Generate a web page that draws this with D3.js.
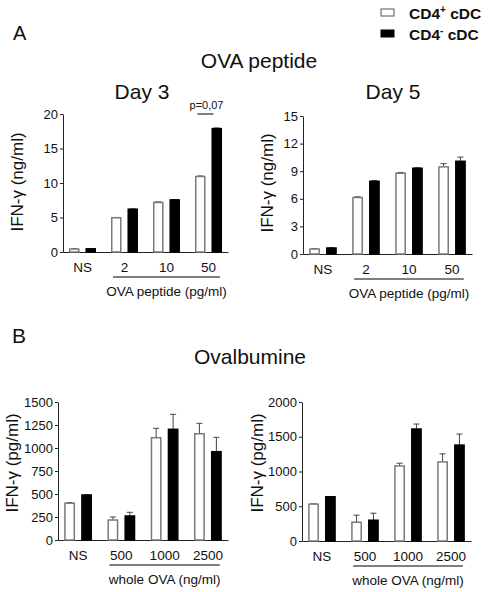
<!DOCTYPE html>
<html>
<head>
<meta charset="utf-8">
<script src="https://cdn.jsdelivr.net/npm/d3@7"></script>
<style>
  html, body { margin: 0; padding: 0; background: #fff; }
  svg { display: block; font-family: "Liberation Sans", Arial, sans-serif; }
</style>
</head>
<body>
<svg id="chart" width="498" height="592"></svg>
<script>
// ---------- data ----------
const seriesNames = ["CD4+ cDC", "CD4- cDC"];
const peptideDoses = ["NS", "2", "10", "50"];
const ovaDoses = ["NS", "500", "1000", "2500"];

const day3Pos = [0.43, 4.96, 7.18, 10.94];
const day3PosErr = [0.04, 0.05, 0.08, 0.08];
const day3Neg = [0.46, 6.2, 7.55, 17.88];
const day3NegErr = [0.04, 0.05, 0.05, 0.1];

const day5Pos = [0.54, 6.14, 8.78, 9.47];
const day5PosErr = [0.03, 0.08, 0.08, 0.35];
const day5Neg = [0.65, 7.9, 9.32, 10.08];
const day5NegErr = [0.03, 0.08, 0.06, 0.45];

const ovaAPos = [400, 217, 1112, 1155];
const ovaAPosErr = [6, 33, 102, 113];
const ovaANeg = [489, 261, 1203, 960];
const ovaANegErr = [4, 40, 163, 156];

const ovaBPos = [531, 270, 1080, 1138];
const ovaBPosErr = [4, 102, 39, 116];
const ovaBNeg = [636, 299, 1611, 1380];
const ovaBNegErr = [4, 101, 72, 159];

const ticksDay3 = [0, 5, 10, 15, 20];
const ticksDay5 = [0, 3, 6, 9, 12, 15];
const ticksOvaA = [0, 250, 500, 750, 1000, 1250, 1500];
const ticksOvaB = [0, 500, 1000, 1500, 2000];

// ---------- drawing ----------
const svg = d3.select("#chart");
const FONT = "'Liberation Sans', Arial, sans-serif";
const AXIS_COLOR = "#222";

function drawPanel(cfg) {
  const g = svg.append("g");
  const x = d3.scaleBand().domain(cfg.groups).range([cfg.x0, cfg.x1])
    .paddingInner(0.357).paddingOuter(0.143);
  const xs = d3.scaleBand().domain([0, 1]).range([0, x.bandwidth()]).paddingInner(0.36);
  const y = d3.scaleLinear().domain([0, d3.max(cfg.ticks)]).range([cfg.yb, cfg.yt]);

  // y axis
  const ya = g.append("g").attr("transform", `translate(${cfg.x0},0)`)
    .call(d3.axisLeft(y).tickValues(cfg.ticks).tickFormat(d3.format("d"))
      .tickSize(3).tickSizeOuter(0).tickPadding(2));
  ya.select(".domain").attr("stroke", AXIS_COLOR).attr("stroke-width", 1);
  ya.selectAll(".tick line").attr("stroke", AXIS_COLOR);
  ya.selectAll("text").attr("font-family", FONT).attr("font-size", 13).attr("fill", "#111");

  // x axis
  const xa = g.append("g").attr("transform", `translate(0,${cfg.yb})`)
    .call(d3.axisBottom(x).tickSize(0).tickSizeOuter(0).tickPadding(10));
  xa.select(".domain").attr("stroke", AXIS_COLOR).attr("stroke-width", 1);
  xa.selectAll("text").attr("font-family", FONT).attr("font-size", 13.5).attr("fill", "#111");

  // bars
  const sets = [
    { vals: cfg.pos, errs: cfg.posErr, fill: "#fff", stroke: "#7a7a7a", i: 0 },
    { vals: cfg.neg, errs: cfg.negErr, fill: "#000", stroke: "#000", i: 1 }
  ];
  sets.forEach(s => {
    const data = cfg.groups.map((gname, k) => ({ g: gname, v: s.vals[k], e: s.errs[k] }));
    const bw = xs.bandwidth();
    // error bars (upward)
    g.selectAll(null).data(data).enter().append("line")
      .attr("x1", d => x(d.g) + xs(s.i) + bw / 2)
      .attr("x2", d => x(d.g) + xs(s.i) + bw / 2)
      .attr("y1", d => y(d.v))
      .attr("y2", d => y(d.v + d.e))
      .attr("stroke", "#444").attr("stroke-width", 1);
    g.selectAll(null).data(data).enter().append("line")
      .attr("x1", d => x(d.g) + xs(s.i) + bw / 2 - 3)
      .attr("x2", d => x(d.g) + xs(s.i) + bw / 2 + 3)
      .attr("y1", d => y(d.v + d.e))
      .attr("y2", d => y(d.v + d.e))
      .attr("stroke", "#444").attr("stroke-width", 1);
    g.selectAll(null).data(data).enter().append("rect")
      .attr("x", d => x(d.g) + xs(s.i) + 0.75)
      .attr("width", bw - 1.5)
      .attr("y", d => y(d.v))
      .attr("height", d => cfg.yb - y(d.v))
      .attr("fill", s.fill)
      .attr("stroke", s.stroke).attr("stroke-width", 1.5);
  });

  // underline for dose groups
  const gs = cfg.groups;
  const ux0 = x(gs[1]) + 2, ux1 = x(gs[gs.length - 1]) + x.bandwidth() - 2;
  g.append("line").attr("x1", ux0).attr("x2", ux1)
    .attr("y1", cfg.yb + 25).attr("y2", cfg.yb + 25)
    .attr("stroke", "#000").attr("stroke-width", 1.2);
  g.append("text").attr("x", (ux0 + ux1) / 2).attr("y", cfg.yb + 44)
    .attr("text-anchor", "middle").attr("font-family", FONT).attr("font-size", 13.5)
    .attr("fill", "#111").text(cfg.xlabel);

  // y label
  g.append("text")
    .attr("transform", `translate(${cfg.ylx},${cfg.yly}) rotate(-90)`)
    .attr("text-anchor", "middle").attr("font-family", FONT).attr("font-size", 17)
    .attr("fill", "#111").text(cfg.ylabel);

  // title
  if (cfg.title) {
    g.append("text").attr("x", cfg.titleX).attr("y", 99)
      .attr("text-anchor", "middle").attr("font-family", FONT).attr("font-size", 21)
      .attr("fill", "#111").text(cfg.title);
  }
  return { g, x, xs, y };
}

const p1 = drawPanel({
  groups: peptideDoses, pos: day3Pos, posErr: day3PosErr, neg: day3Neg, negErr: day3NegErr,
  ticks: ticksDay3, x0: 63, x1: 228, yb: 252, yt: 114,
  xlabel: "OVA peptide (pg/ml)", ylabel: "IFN-\u03B3 (ng/ml)", ylx: 23, yly: 182,
  title: "Day 3", titleX: 142
});
drawPanel({
  groups: peptideDoses, pos: day5Pos, posErr: day5PosErr, neg: day5Neg, negErr: day5NegErr,
  ticks: ticksDay5, x0: 303, x1: 472, yb: 254, yt: 116,
  xlabel: "OVA peptide (pg/ml)", ylabel: "IFN-\u03B3 (ng/ml)", ylx: 273, yly: 183,
  title: "Day 5", titleX: 393
});
drawPanel({
  groups: ovaDoses, pos: ovaAPos, posErr: ovaAPosErr, neg: ovaANeg, negErr: ovaANegErr,
  ticks: ticksOvaA, x0: 58, x1: 228, yb: 540, yt: 402,
  xlabel: "whole OVA (ng/ml)", ylabel: "IFN-\u03B3 (pg/ml)", ylx: 18, yly: 463
});
drawPanel({
  groups: ovaDoses, pos: ovaBPos, posErr: ovaBPosErr, neg: ovaBNeg, negErr: ovaBNegErr,
  ticks: ticksOvaB, x0: 302, x1: 471, yb: 541, yt: 402,
  xlabel: "whole OVA (ng/ml)", ylabel: "IFN-\u03B3 (pg/ml)", ylx: 263, yly: 463
});

// p-value annotation on Day 3, 50 pg/ml
const gc = p1.x("50") + p1.x.bandwidth() / 2 - 3;
svg.append("line").attr("x1", gc - 8).attr("x2", gc + 8)
  .attr("y1", p1.y(20)).attr("y2", p1.y(20)).attr("stroke", "#000").attr("stroke-width", 1);
svg.append("text").attr("x", gc + 1).attr("y", p1.y(20) - 5).attr("text-anchor", "middle")
  .attr("font-family", FONT).attr("font-size", 11).attr("fill", "#111").text("p=0,07");

// section headers
svg.append("text").attr("x", 13).attr("y", 40).attr("font-family", FONT).attr("font-size", 20).attr("fill", "#111").text("A");
svg.append("text").attr("x", 12).attr("y", 343).attr("font-family", FONT).attr("font-size", 21).attr("fill", "#111").text("B");
svg.append("text").attr("x", 259).attr("y", 68).attr("text-anchor", "middle").attr("font-family", FONT).attr("font-size", 21).attr("fill", "#111").text("OVA peptide");
svg.append("text").attr("x", 250).attr("y", 364).attr("text-anchor", "middle").attr("font-family", FONT).attr("font-size", 21).attr("fill", "#111").text("Ovalbumine");

// legend
const legend = svg.append("g");
const legItems = [
  { name: seriesNames[0], fill: "#fff", stroke: "#555", sup: "+" },
  { name: seriesNames[1], fill: "#000", stroke: "#000", sup: "-" }
];
legItems.forEach((d, i) => {
  const yy = 9 + i * 21;
  legend.append("rect").attr("x", 381).attr("y", yy).attr("width", 13).attr("height", 7)
    .attr("fill", d.fill).attr("stroke", d.stroke).attr("stroke-width", 1);
  const t = legend.append("text").attr("x", 409).attr("y", yy + 9.5)
    .attr("font-family", FONT).attr("font-size", 15.5).attr("font-weight", "bold").attr("fill", "#111");
  t.append("tspan").text("CD4");
  t.append("tspan").attr("font-size", 10).attr("dy", -6).text(d.sup);
  t.append("tspan").attr("dy", 6).text(" cDC");
});
</script>
</body>
</html>
